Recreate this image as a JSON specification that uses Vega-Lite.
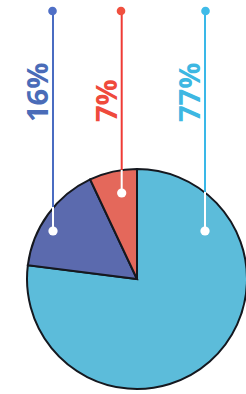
{
  "$schema": "https://vega.github.io/schema/vega-lite/v6.json",
  "width": 246,
  "height": 394,
  "padding": 0,
  "autosize": {"type": "none"},
  "background": "white",
  "config": {"view": {"stroke": null}, "axis": {"disable": true}},
  "data": {"values": [{}]},
  "layer": [
    {
      "data": {"values": [
        {"label": "77%", "value": 77, "order": 1},
        {"label": "16%", "value": 16, "order": 2},
        {"label": "7%", "value": 7, "order": 3}
      ]},
      "mark": {"type": "arc", "radius": 110, "stroke": "#15181f", "strokeWidth": 2},
      "encoding": {
        "theta": {"field": "value", "type": "quantitative", "stack": true},
        "order": {"field": "order", "type": "quantitative"},
        "color": {"field": "label", "type": "nominal", "legend": null,
          "scale": {"domain": ["77%", "16%", "7%"], "range": ["#5cbcda", "#5b6aae", "#e4685b"]}},
        "x": {"datum": 137, "type": "quantitative", "axis": null, "scale": {"domain": [0, 246], "nice": false, "zero": false}},
        "y": {"datum": 279, "type": "quantitative", "axis": null, "scale": {"domain": [0, 394], "nice": false, "zero": false, "reverse": true}}
      }
    },
    {"mark": {"type": "rule", "color": "#4a6cc2", "strokeWidth": 2},
     "encoding": {"x": {"datum": 53}, "y": {"datum": 11}, "y2": {"datum": 207}}},
    {"mark": {"type": "rule", "color": "white", "strokeWidth": 2},
     "encoding": {"x": {"datum": 53}, "y": {"datum": 207}, "y2": {"datum": 231}}},
    {"mark": {"type": "point", "filled": true, "opacity": 1, "size": 75, "color": "#4f6fc6"},
     "encoding": {"x": {"datum": 52.5}, "y": {"datum": 11}}},
    {"mark": {"type": "point", "filled": true, "opacity": 1, "size": 85, "color": "white"},
     "encoding": {"x": {"datum": 53}, "y": {"datum": 231}}},
    {"mark": {"type": "text", "text": "16%", "angle": 270, "align": "left", "baseline": "alphabetic", "font": "Open Sans", "fontWeight": "bold", "fontSize": 29, "color": "#4a6cb8"},
     "encoding": {"x": {"datum": 48}, "y": {"datum": 122}}},

    {"mark": {"type": "rule", "color": "#ef3b35", "strokeWidth": 2},
     "encoding": {"x": {"datum": 121.7}, "y": {"datum": 11}, "y2": {"datum": 170}}},
    {"mark": {"type": "rule", "color": "white", "strokeWidth": 2},
     "encoding": {"x": {"datum": 121.7}, "y": {"datum": 170}, "y2": {"datum": 193}}},
    {"mark": {"type": "point", "filled": true, "opacity": 1, "size": 75, "color": "#f0503f"},
     "encoding": {"x": {"datum": 121}, "y": {"datum": 11}}},
    {"mark": {"type": "point", "filled": true, "opacity": 1, "size": 85, "color": "white"},
     "encoding": {"x": {"datum": 121.7}, "y": {"datum": 193}}},
    {"mark": {"type": "text", "text": "7%", "angle": 270, "align": "left", "baseline": "alphabetic", "font": "Open Sans", "fontWeight": "bold", "fontSize": 29, "color": "#ef4a3c"},
     "encoding": {"x": {"datum": 117}, "y": {"datum": 122}}},

    {"mark": {"type": "rule", "color": "#3ab8e8", "strokeWidth": 2},
     "encoding": {"x": {"datum": 205}, "y": {"datum": 11}, "y2": {"datum": 192}}},
    {"mark": {"type": "rule", "color": "white", "strokeWidth": 2},
     "encoding": {"x": {"datum": 205}, "y": {"datum": 192}, "y2": {"datum": 231}}},
    {"mark": {"type": "point", "filled": true, "opacity": 1, "size": 75, "color": "#3fbbe8"},
     "encoding": {"x": {"datum": 205.5}, "y": {"datum": 11}}},
    {"mark": {"type": "point", "filled": true, "opacity": 1, "size": 85, "color": "white"},
     "encoding": {"x": {"datum": 205}, "y": {"datum": 231}}},
    {"mark": {"type": "text", "text": "77%", "angle": 270, "align": "left", "baseline": "alphabetic", "font": "Open Sans", "fontWeight": "bold", "fontSize": 29, "color": "#3db7e2"},
     "encoding": {"x": {"datum": 200}, "y": {"datum": 122}}}
  ]
}
